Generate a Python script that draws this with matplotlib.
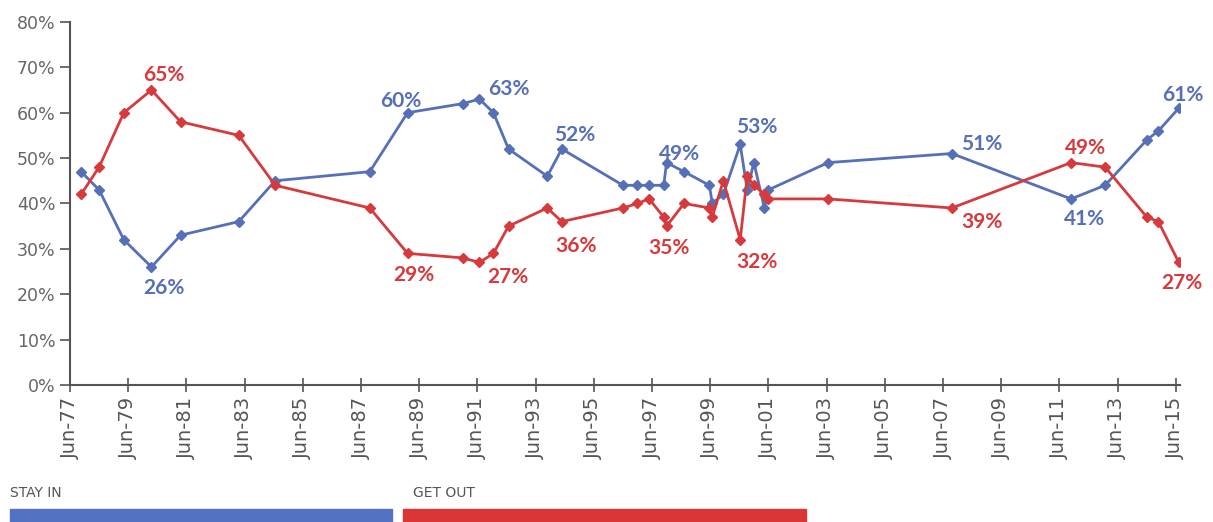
import matplotlib.pyplot as plt
from matplotlib.patches import Rectangle

# poll dates as decimal years (June = .5)
years = [1977.88, 1978.5, 1979.35, 1980.3, 1981.3, 1983.3, 1984.55, 1987.8,
         1989.1, 1991.0, 1991.57, 1992.05, 1992.57, 1993.9, 1994.4, 1996.5,
         1997.0, 1997.4, 1997.9, 1998.0, 1998.6, 1999.47, 1999.57, 1999.95,
         2000.53, 2000.77, 2001.0, 2001.36, 2001.5, 2003.55, 2007.8, 2011.9,
         2013.07, 2014.5, 2014.9, 2015.6]
stay_in = [47, 43, 32, 26, 33, 36, 45, 47, 60, 62, 63, 60, 52, 46, 52, 44,
           44, 44, 44, 49, 47, 44, 40, 42, 53, 43, 49, 39, 43, 49, 51, 41,
           44, 54, 56, 61]
get_out = [42, 48, 60, 65, 58, 55, 44, 39, 29, 28, 27, 29, 35, 39, 36, 39,
           40, 41, 37, 35, 40, 39, 37, 45, 32, 46, 44, 42, 41, 41, 39, 49,
           48, 37, 36, 27]
tick_years = list(range(1977, 2016, 2))
tick_labels = ["Jun-%02d" % (y % 100) for y in tick_years]

# labelled points: (series, index, dx px, dy px)
labels = [("out", 3, 12, 15), ("in", 8, -7, 12), ("in", 10, 29, 10),
          ("in", 14, 13, 14), ("in", 19, 13, 9), ("in", 24, 17, 17),
          ("in", 30, 30, 10), ("out", 31, 14, 15), ("in", 35, 4, 13),
          ("in", 3, 12, -21), ("out", 8, 6, -22), ("out", 10, 28, -15),
          ("out", 14, 14, -24), ("out", 19, 2, -22), ("out", 24, 17, -22),
          ("out", 30, 30, -14), ("in", 31, 13, -20), ("out", 35, 3, -21)]

blue = "#5670b8"
red = "#d73a3c"
gray = "#555555"

fig = plt.figure(figsize=(12.13, 5.22), dpi=100)
ax = fig.add_axes([0.0577, 0.2625, 0.9153, 0.6955])

ax.plot(years, stay_in, color=blue, lw=2, marker="D", ms=5)
ax.plot(years, get_out, color=red, lw=2, marker="D", ms=5)

series = {"in": (stay_in, blue), "out": (get_out, red)}
for name, i, dx, dy in labels:
    vals, col = series[name]
    ax.annotate("%d%%" % vals[i], (years[i], vals[i]), xytext=(dx, dy),
                textcoords="offset pixels", ha="center", va="center",
                color=col, fontsize=15, fontweight="bold", family="Lato")

ax.set_xlim(1977.5, 2015.65)
ax.set_ylim(0, 80)
ax.set_yticks(range(0, 81, 10))
ax.set_yticklabels(["%d%%" % v for v in range(0, 81, 10)])
ax.set_xticks([y + 0.5 for y in tick_years])
ax.set_xticklabels(tick_labels, rotation=90)
ax.tick_params(axis="y", colors=gray, labelsize=12.5, length=7, width=1.2,
               labelcolor="#666666")
ax.tick_params(axis="x", colors=gray, labelsize=14, length=10, width=1.2,
               direction="inout", labelcolor="#555555")
for s in ["top", "right"]:
    ax.spines[s].set_visible(False)
for s in ["left", "bottom"]:
    ax.spines[s].set_color(gray)
    ax.spines[s].set_linewidth(1.5)

# legend strip at the bottom
fig.text(10 / 1213, 1 - 493 / 522, "STAY IN", fontsize=10, color="#555555",
         va="center")
fig.text(413 / 1213, 1 - 493 / 522, "GET OUT", fontsize=10, color="#555555",
         va="center")
fig.add_artist(Rectangle((10 / 1213, 0), 382 / 1213, 13 / 522,
                         transform=fig.transFigure, color="#5472c4"))
fig.add_artist(Rectangle((403 / 1213, 0), 403 / 1213, 13 / 522,
                         transform=fig.transFigure, color="#d93636"))

fig.savefig("out.png", dpi=100)
